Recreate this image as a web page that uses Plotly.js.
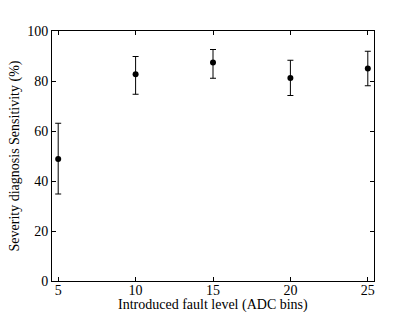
<!DOCTYPE html>
<html>
<head>
<meta charset="utf-8">
<script src="https://cdn.plot.ly/plotly-3.0.1.min.js"></script>
<style>html,body{margin:0;padding:0;background:#fff;}#chart{width:415px;height:312px;}</style>
</head>
<body>
<div id="chart"></div>
<script>
const faultLevels = [5, 10, 15, 20, 25];
const sensitivity = [48.8, 82.7, 87.4, 81.2, 85.0];
const errPlus = [14.3, 7.1, 5.2, 7.1, 6.9];
const errMinus = [14.0, 8.0, 6.3, 7.0, 6.9];
const xTicks = [5, 10, 15, 20, 25];
const yTicks = [0, 20, 40, 60, 80, 100];
const xTitle = 'Introduced fault level (ADC bins)';
const yTitle = 'Severity diagnosis Sensitivity (%)';

const trace = {
  x: faultLevels,
  y: sensitivity,
  type: 'scatter',
  mode: 'markers',
  marker: {color: '#000', size: 6},
  error_y: {type: 'data', symmetric: false, array: errPlus, arrayminus: errMinus,
            color: '#000', thickness: 1, width: 3},
  showlegend: false,
  hoverinfo: 'none'
};

const fontFam = 'Liberation Serif';
const layout = {
  width: 415, height: 312,
  margin: {l: 52, r: 41, t: 31, b: 31, pad: 0},
  paper_bgcolor: '#fff', plot_bgcolor: '#fff',
  font: {family: fontFam, color: '#000', size: 14},
  xaxis: {
    range: [4.6, 25.4], tickvals: xTicks, ticktext: xTicks.map(String),
    ticks: 'inside', ticklen: 4, tickcolor: '#000', tickwidth: 1,
    showline: true, linecolor: '#000', linewidth: 1, mirror: 'allticks',
    showgrid: false, zeroline: false, ticklabelstandoff: -4,
    tickfont: {family: fontFam, size: 14, color: '#000'}
  },
  yaxis: {
    range: [0, 100], tickvals: yTicks, ticktext: yTicks.map(String),
    ticks: 'inside', ticklen: 4, tickcolor: '#000', tickwidth: 1,
    showline: true, linecolor: '#000', linewidth: 1, mirror: 'allticks',
    showgrid: false, zeroline: false,
    tickfont: {family: fontFam, size: 14, color: '#000'},
    title: {text: yTitle, font: {family: fontFam, size: 14, color: '#000'}, standoff: 4}
  },
  annotations: [{
    text: xTitle, xref: 'paper', yref: 'paper', x: 0.5, y: -0.096,
    xanchor: 'center', yanchor: 'middle', showarrow: false,
    font: {family: fontFam, size: 14, color: '#000'}
  }]
};

Plotly.newPlot('chart', [trace], layout, {staticPlot: true, displayModeBar: false});
</script>
</body>
</html>
